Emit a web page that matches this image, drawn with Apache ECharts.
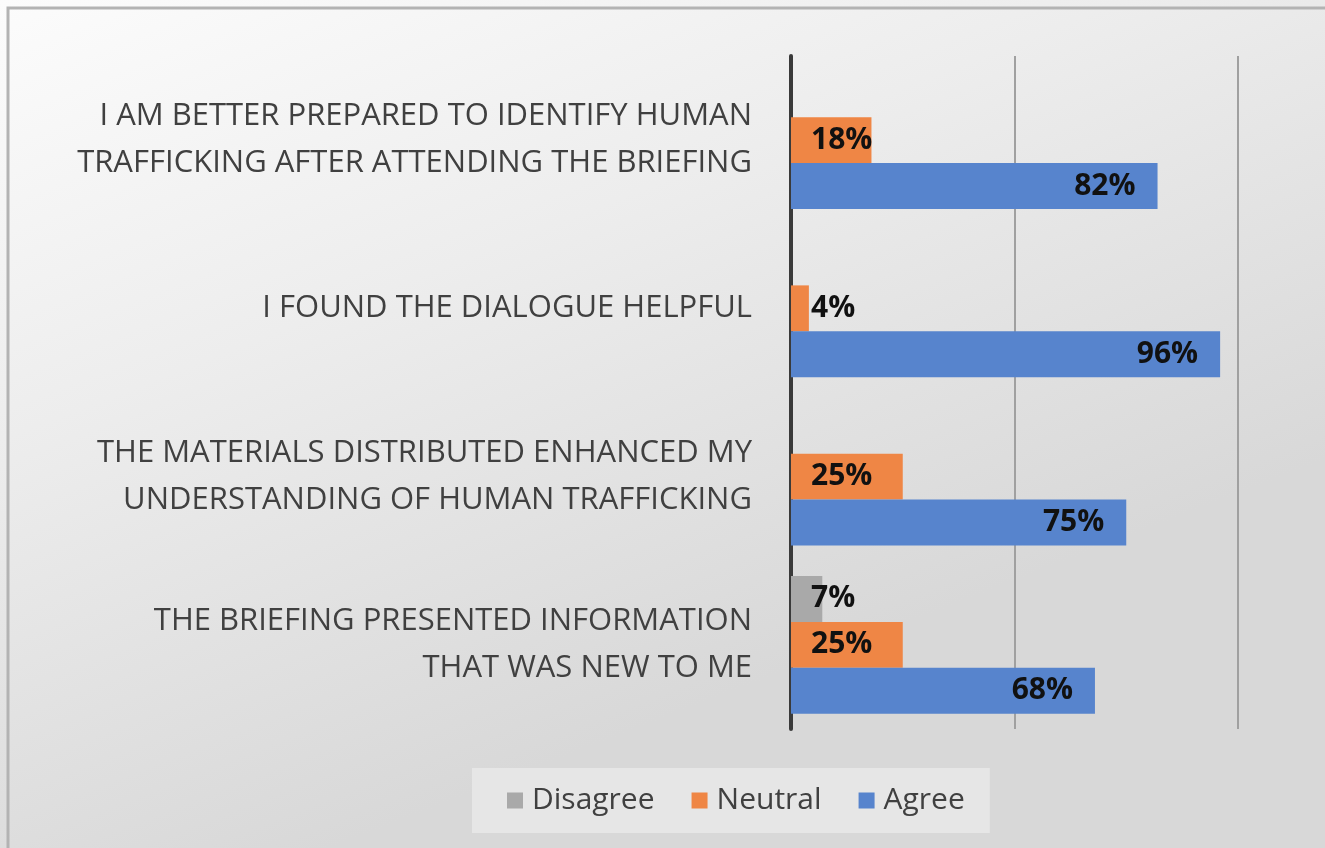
<!DOCTYPE html>
<html>
<head>
<meta charset="utf-8">
<script src="https://cdn.jsdelivr.net/npm/echarts@6/dist/echarts.min.js"></script>
<style>
html,body{margin:0;padding:0;background:#fff;}
#chart{width:1325px;height:848px;}
</style>
</head>
<body>
<div id="chart"></div>
<script>
const categories = [
  "I AM BETTER PREPARED TO IDENTIFY HUMAN\nTRAFFICKING AFTER ATTENDING THE BRIEFING",
  "I FOUND THE DIALOGUE HELPFUL",
  "THE MATERIALS DISTRIBUTED ENHANCED MY\nUNDERSTANDING OF HUMAN TRAFFICKING",
  "THE BRIEFING PRESENTED INFORMATION\nTHAT WAS NEW TO ME"
];
const disagree = [null, null, null, 7];
const neutral = [18, 4, 25, 25];
const agree = [82, 96, 75, 68];
const seriesNames = ["Disagree", "Neutral", "Agree"];
const colors = ["#a9a9a9", "#ef8645", "#5784cd"];

const chart = echarts.init(document.getElementById('chart'));

function toData(arr) {
  return arr.map(v => {
    if (v === null) return null;
    return {
      value: v,
      label: v < 30
        ? { position: 'insideLeft', distance: 20 }
        : { position: 'insideRight', distance: 22 }
    };
  });
}

const labelStyle = {
  show: true,
  formatter: p => p.value + '%',
  fontFamily: 'Open Sans',
  fontWeight: 'bold',
  fontSize: 30,
  color: '#111'
};

const seriesData = [disagree, neutral, agree];
const series = seriesNames.map((name, i) => ({
  name: name,
  type: 'bar',
  data: toData(seriesData[i]),
  itemStyle: { color: colors[i] },
  barGap: '0%',
  barCategoryGap: '18%',
  label: labelStyle,
  animation: false
}));

chart.setOption({
  animation: false,
  backgroundColor: 'transparent',
  graphic: [
    {
      type: 'rect', z: -10, silent: true,
      shape: { x: 0, y: 0, width: 1325, height: 848 },
      style: {
        fill: {
          type: 'linear', x: 0, y: 0, x2: 0.25, y2: 1,
          colorStops: [
            { offset: 0, color: '#fcfcfc' },
            { offset: 0.45, color: '#ededed' },
            { offset: 1, color: '#d8d8d8' }
          ]
        }
      }
    },
    {
      type: 'polyline', z: -9, silent: true,
      shape: { points: [[8, 848], [8, 8], [1325, 8]] },
      style: { stroke: '#b3b3b3', lineWidth: 3, fill: null }
    }
  ],
  grid: { left: 791, right: 87, top: 56, bottom: 119, containLabel: false },
  legend: {
    data: seriesNames,
    top: 768,
    left: 472,
    itemWidth: 16,
    itemHeight: 16,
    itemGap: 37,
    icon: 'rect',
    backgroundColor: '#e6e6e6',
    padding: [16, 25, 16, 35],
    textStyle: { fontFamily: 'Open Sans', fontSize: 30, lineHeight: 33, color: '#404040', padding: [0, 0, 0, 4] }
  },
  xAxis: {
    type: 'value',
    min: 0,
    max: 100,
    interval: 50,
    axisLabel: { show: false },
    axisLine: { show: false },
    axisTick: { show: false },
    splitLine: { lineStyle: { color: '#a0a0a0', width: 2 } }
  },
  yAxis: {
    type: 'category',
    inverse: true,
    data: categories,
    axisLine: { show: true, lineStyle: { color: '#3a3a3a', width: 4 } },
    axisTick: { show: false },
    axisLabel: {
      margin: 39,
      align: 'right',
      fontFamily: 'Open Sans',
      fontSize: 31,
      lineHeight: 47,
      color: '#404040'
    }
  },
  series: series
});
</script>
</body>
</html>
